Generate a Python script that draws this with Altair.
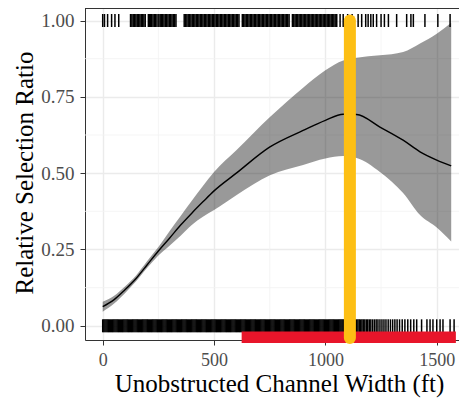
import altair as alt
import pandas as pd

# Fitted curve (x in ft, fitted ratio, lower and upper confidence limits)
curve_x = [0, 50, 100, 150, 200, 250, 300, 350, 400, 450, 500, 600, 751, 900, 1000, 1080,
           1140, 1245, 1349, 1425, 1500, 1565]
curve_mean = [0.063, 0.085, 0.118, 0.155, 0.200, 0.245, 0.287, 0.330, 0.369, 0.406, 0.442,
              0.500, 0.586, 0.640, 0.673, 0.693, 0.692, 0.651, 0.608, 0.570, 0.543, 0.524]
curve_lo = [0.046, 0.072, 0.107, 0.146, 0.190, 0.230, 0.262, 0.295, 0.330, 0.357, 0.379,
            0.428, 0.493, 0.527, 0.548, 0.556, 0.550, 0.504, 0.435, 0.363, 0.322, 0.276]
curve_hi = [0.079, 0.098, 0.129, 0.165, 0.212, 0.258, 0.310, 0.360, 0.410, 0.458, 0.504,
            0.575, 0.684, 0.780, 0.837, 0.869, 0.878, 0.886, 0.897, 0.925, 0.957, 0.993]

# Used sites (y = 1)
used_x = [0, 8, 22, 40, 55, 72,
          125, 131, 137, 143, 149, 155, 161, 167, 173, 179, 185, 191,
          205, 210, 215, 220, 226, 232, 238, 244,
          252, 258, 263, 269, 275, 281, 287, 293, 299, 305, 311, 317, 323, 329,
          366, 372, 378, 384, 390, 396, 402, 408, 414, 420, 426, 432, 438, 444, 450,
          456, 462, 468, 474, 480, 486, 492, 498,
          504, 510, 516, 522, 528, 534, 540, 546, 552, 558, 564, 570, 576, 582, 588,
          594, 600, 606, 612,
          627, 633, 639, 645, 651, 657, 663, 669, 675, 681, 687, 693, 699, 705, 711,
          717, 723, 729, 735, 741, 747, 753, 759, 765, 771, 777, 783, 789, 795, 801,
          807, 813, 819, 825, 831, 837,
          852, 858, 864, 870, 876, 882, 888, 894, 900, 906, 912, 918, 924, 930, 936,
          942, 948, 954, 960, 966, 972, 978, 984, 990, 996, 1002, 1008, 1014, 1020,
          1026, 1032, 1038, 1044, 1051,
          1066, 1080, 1100, 1120, 1147, 1163, 1181, 1192, 1204, 1215, 1230, 1250,
          1265, 1283, 1320, 1365, 1384, 1395, 1447, 1505, 1560]

# Available sites (y = 0)
avail_x = [0, 5, 10, 15, 20, 25, 30, 35, 40, 45, 50, 55, 60, 65, 70, 75, 80, 85, 90, 95,
           100, 105, 110, 115, 120, 125, 130, 135, 140, 145, 150, 155, 160, 165, 170, 175, 180, 185, 190, 195,
           200, 205, 210, 215, 220, 225, 230, 235, 240, 245, 250, 255, 260, 265, 270, 275, 280, 285, 290, 295,
           300, 305, 310, 315, 320, 325, 330, 335, 340, 345, 350, 355, 360, 365, 370, 375, 380, 385, 390, 395,
           400, 405, 410, 415, 420, 425, 430, 435, 440, 445, 450, 455, 460, 465, 470, 475, 480, 485, 490, 495,
           500, 505, 510, 515, 520, 525, 530, 535, 540, 545, 550, 555, 560, 565, 570, 575, 580, 585, 590, 595,
           600, 605, 610, 615, 620, 625, 630, 635, 640, 645, 650, 655, 660, 665, 670, 675, 680, 685, 690, 695,
           700, 705, 710, 715, 720, 725, 730, 735, 740, 745, 750, 755, 760, 765, 770, 775, 780, 785, 790, 795,
           800, 805, 810, 815, 820, 825, 830, 835, 840, 845, 850, 855, 860, 865, 870, 875, 880, 885, 890, 895,
           900, 905, 910, 915, 920, 925, 930, 935, 940, 945, 950, 955, 960, 965, 970, 975, 980, 985, 990, 995,
           1000, 1005, 1010, 1015, 1020, 1025, 1030, 1035, 1040, 1045, 1050, 1055, 1060, 1065, 1070, 1075,
           1080, 1085, 1090, 1095, 1100,
           1135, 1140, 1146, 1152, 1158, 1164, 1170, 1177, 1184, 1190, 1197, 1204, 1212, 1220,
           1228, 1236, 1245, 1254, 1263, 1272, 1282, 1292, 1302, 1312, 1322, 1333, 1345, 1357,
           1370, 1383, 1397, 1410, 1432, 1456, 1470, 1483, 1500, 1515, 1528, 1560, 1578]

# Highlight bar (range) and vertical marker
red_range = [624, 1586]
red_y = [-0.0376]
marker_x = [1110]
marker_y = [-0.04, 1.0]

x_ticks = [0, 500, 1000, 1500]
y_ticks = [0, 0.25, 0.5, 0.75, 1.0]
minor_x = [250, 750, 1250]
minor_y = [0.125, 0.375, 0.625, 0.875]

FONT = "Liberation Serif"
W, H = 374, 332
xs = alt.Scale(domain=[-79.5, 1600], nice=False, zero=False)
ys = alt.Scale(domain=[-0.0465, 1.041], nice=False, zero=False)

x_axis = alt.Axis(values=x_ticks, format="d", title="Unobstructed Channel Width (ft)", grid=True,
                  gridColor="#ebebeb", gridWidth=1.4,
                  domain=True, domainColor="#333333", domainWidth=1,
                  tickColor="#333333", tickSize=5, tickWidth=1,
                  labelFont=FONT, labelFontSize=18, labelColor="#4d4d4d",
                  labelBaseline="alphabetic", labelPadding=20.5,
                  titleFont=FONT, titleFontSize=25, titleFontWeight="normal",
                  titleColor="black", titleX=194, titleY=51.5, titleBaseline="alphabetic",
                  titleAlign="center")
y_axis = alt.Axis(values=y_ticks, format=".2f", title="Relative Selection Ratio", grid=True,
                  gridColor="#ebebeb", gridWidth=1.4,
                  domain=True, domainColor="#333333", domainWidth=1,
                  tickColor="#333333", tickSize=5, tickWidth=1,
                  labelFont=FONT, labelFontSize=19, labelColor="#4d4d4d",
                  labelPadding=6,
                  titleFont=FONT, titleFontSize=25, titleFontWeight="normal",
                  titleColor="black", titleX=-53, titleY=164.5, titleAngle=270,
                  titleBaseline="alphabetic", titleAlign="center")


def X(field):
    return alt.X(field, type="quantitative", scale=xs, axis=x_axis)


def Y(field):
    return alt.Y(field, type="quantitative", scale=ys, axis=y_axis)


curve = pd.DataFrame({"x": curve_x, "m": curve_mean, "lo": curve_lo, "hi": curve_hi})
rug = pd.DataFrame({"x": used_x + avail_x,
                    "y": [1.0] * len(used_x) + [0.0] * len(avail_x)})
red = pd.DataFrame({"x": [red_range[0]], "x2": [red_range[1]], "y": red_y})
marker = pd.DataFrame({"x": marker_x, "y": [marker_y[0]], "y2": [marker_y[1]]})
mx = pd.DataFrame({"x": minor_x})
my = pd.DataFrame({"y": minor_y})

grid_x = alt.Chart(mx).mark_rule(color="#f2f2f2", strokeWidth=0.8).encode(x=X("x"))
grid_y = alt.Chart(my).mark_rule(color="#f2f2f2", strokeWidth=0.8).encode(y=Y("y"))
top_border = alt.Chart(mx).mark_rule(color="#333333", strokeWidth=1).encode(
    x=alt.value(0), x2=alt.value(W), y=alt.value(0.5))

band = alt.Chart(curve).mark_area(color="black", opacity=0.4, interpolate="monotone").encode(
    x=X("x"), y=Y("lo"), y2=alt.Y2("hi"))
line = alt.Chart(curve).mark_line(color="black", strokeWidth=1.4, interpolate="monotone").encode(
    x=X("x"), y=Y("m"))
ticks = alt.Chart(rug).mark_tick(color="black", orient="vertical", thickness=1.5, size=13,
                                 opacity=1).encode(x=X("x"), y=Y("y"))
redbar = alt.Chart(red).mark_rule(color="#e8152a", strokeWidth=11.5).encode(
    x=X("x"), x2=alt.X2("x2"), y=Y("y"))
yellow = alt.Chart(marker).mark_rule(color="#fdbf14", strokeWidth=12, strokeCap="round").encode(
    x=X("x"), y=Y("y"), y2=alt.Y2("y2"))

chart = alt.layer(grid_x, grid_y, top_border, band, line, ticks, redbar, yellow).properties(
    width=W, height=H,
    autosize=alt.AutoSizeParams(type="none"),
    padding={"left": 77, "top": 0, "right": 0, "bottom": 58},
).configure_view(stroke="transparent").configure(background="white")

chart.save("out.html", embed_options={"renderer": "svg", "actions": False})
